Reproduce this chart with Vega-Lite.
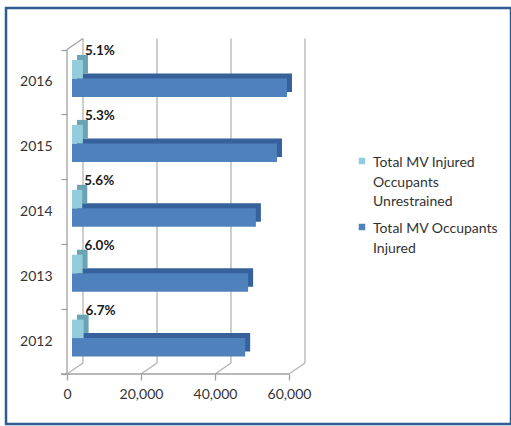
{
  "$schema": "https://vega.github.io/schema/vega-lite/v6.json",
  "width": 505,
  "height": 416,
  "autosize": {"type": "none"},
  "padding": {"left": 6, "top": 8, "right": 0, "bottom": 2},
  "background": "white",
  "config": {
    "view": {"stroke": "#2f5d93", "strokeWidth": 2.5, "fill": "white"},
    "font": "Lato"
  },
  "datasets": {
    "main": [
      {"year": 2012, "series": "Total MV Occupants Injured", "value": 46800, "label": ""},
      {"year": 2013, "series": "Total MV Occupants Injured", "value": 47600, "label": ""},
      {"year": 2014, "series": "Total MV Occupants Injured", "value": 49700, "label": ""},
      {"year": 2015, "series": "Total MV Occupants Injured", "value": 55400, "label": ""},
      {"year": 2016, "series": "Total MV Occupants Injured", "value": 58100, "label": ""},
      {"year": 2012, "series": "Total MV Injured Occupants Unrestrained", "value": 3140, "label": "6.7%"},
      {"year": 2013, "series": "Total MV Injured Occupants Unrestrained", "value": 2860, "label": "6.0%"},
      {"year": 2014, "series": "Total MV Injured Occupants Unrestrained", "value": 2780, "label": "5.6%"},
      {"year": 2015, "series": "Total MV Injured Occupants Unrestrained", "value": 2940, "label": "5.3%"},
      {"year": 2016, "series": "Total MV Injured Occupants Unrestrained", "value": 2960, "label": "5.1%"}
    ],
    "grid": [{"v": 0}, {"v": 20000}, {"v": 40000}, {"v": 60000}]
  },
  "resolve": {"scale": {"yOffset": "independent"}},
  "encoding": {
    "y": {
      "field": "year",
      "type": "ordinal",
      "sort": "descending",
      "scale": {"paddingInner": 0, "paddingOuter": 0.705, "align": 0.4536},
      "axis": {
        "orient": "left",
        "offset": -61,
        "title": null,
        "domain": false,
        "grid": false,
        "tickBand": "extent",
        "tickSize": 6,
        "tickColor": "#a0a0a0",
        "tickWidth": 1.3,
        "labelPadding": 9,
        "labelFontSize": 14,
        "labelColor": "#333333"
      }
    }
  },
  "layer": [
    {
      "data": {"name": "grid"},
      "mark": {"type": "rule", "color": "#b3b3b3", "strokeWidth": 1.3, "xOffset": 16, "yOffset": -11, "y2Offset": -11},
      "encoding": {
        "x": {"field": "v", "type": "quantitative"},
        "y": {"datum": 2016, "type": "ordinal", "bandPosition": 0},
        "y2": {"datum": 2012, "bandPosition": 1}
      }
    },
    {
      "data": {"name": "grid"},
      "mark": {"type": "rule", "color": "#b3b3b3", "strokeWidth": 1.3, "x2Offset": 16, "y2Offset": -11},
      "encoding": {
        "x": {"field": "v", "type": "quantitative"},
        "x2": {"field": "v"},
        "y": {"datum": 2012, "type": "ordinal", "bandPosition": 1},
        "y2": {"datum": 2012, "bandPosition": 1}
      }
    },
    {
      "data": {"name": "grid"},
      "transform": [{"filter": "datum.v == 0"}],
      "mark": {"type": "rule", "color": "#a0a0a0", "strokeWidth": 1.3, "x2Offset": 16, "y2Offset": -11},
      "encoding": {
        "x": {"datum": 0, "type": "quantitative"},
        "x2": {"datum": 0},
        "y": {"datum": 2016, "type": "ordinal", "bandPosition": 0},
        "y2": {"datum": 2016, "bandPosition": 0}
      }
    },
    {
      "data": {"name": "grid"},
      "transform": [{"filter": "datum.v == 0"}],
      "mark": {"type": "rule", "color": "#a0a0a0", "strokeWidth": 1.3},
      "encoding": {
        "x": {"datum": 0, "type": "quantitative"},
        "y": {"datum": 2016, "type": "ordinal", "bandPosition": 0},
        "y2": {"datum": 2012, "bandPosition": 1}
      }
    },
    {
      "data": {"name": "grid"},
      "transform": [{"filter": "datum.v == 0"}],
      "mark": {"type": "rule", "color": "#a0a0a0", "strokeWidth": 1.3},
      "encoding": {
        "x": {"datum": -1620, "type": "quantitative"},
        "x2": {"datum": 60000},
        "y": {"datum": 2012, "type": "ordinal", "bandPosition": 1}
      }
    },
    {
      "data": {"name": "main"},
      "transform": [{"filter": "datum.series == 'Total MV Occupants Injured'"}],
      "mark": {"type": "bar", "color": "#36619b", "xOffset": 10, "x2Offset": 10},
      "encoding": {
        "x": {"field": "value", "type": "quantitative"},
        "yOffset": {
          "field": "series",
          "type": "nominal",
          "scale": {"domain": ["Total MV Injured Occupants Unrestrained", "Total MV Occupants Injured"], "paddingInner": 0, "paddingOuter": 0.754, "align": 0.197}
        }
      }
    },
    {
      "data": {"name": "main"},
      "transform": [{"filter": "datum.series != 'Total MV Occupants Injured'"}],
      "mark": {"type": "bar", "color": "#6aa4b2", "xOffset": 10, "x2Offset": 10},
      "encoding": {
        "x": {"field": "value", "type": "quantitative"},
        "yOffset": {
          "field": "series",
          "type": "nominal",
          "scale": {"domain": ["Total MV Injured Occupants Unrestrained", "Total MV Occupants Injured"], "paddingInner": 0, "paddingOuter": 0.754, "align": 0.197}
        }
      }
    },
    {
      "data": {"name": "main"},
      "mark": {"type": "bar", "xOffset": 5, "x2Offset": 5},
      "encoding": {
        "x": {
          "field": "value",
          "type": "quantitative",
          "scale": {"domain": [-16486, 120000], "nice": false, "zero": false},
          "axis": {
            "orient": "bottom",
            "offset": -50,
            "title": null,
            "values": [0, 20000, 40000, 60000],
            "format": ",d",
            "domain": false,
            "grid": false,
            "tickSize": 6,
            "tickColor": "#a0a0a0",
            "tickWidth": 1.3,
            "labelPadding": 7,
            "labelFlush": false,
            "labelFontSize": 14,
            "labelColor": "#333333"
          }
        },
        "yOffset": {
          "field": "series",
          "type": "nominal",
          "scale": {"domain": ["Total MV Injured Occupants Unrestrained", "Total MV Occupants Injured"], "paddingInner": 0, "paddingOuter": 0.754, "align": 0.376}
        },
        "color": {
          "field": "series",
          "type": "nominal",
          "sort": ["Total MV Injured Occupants Unrestrained", "Total MV Occupants Injured"],
          "scale": {"range": ["#93cddd", "#4f81bd"]},
          "legend": {
            "orient": "none",
            "legendX": 349,
            "legendY": 146,
            "title": null,
            "symbolType": "square",
            "symbolSize": 42,
            "symbolStrokeWidth": 0,
            "labelFontSize": 14,
            "labelColor": "#333333",
            "labelLimit": 200,
            "labelBaseline": "top",
            "rowPadding": 11,
            "labelExpr": "datum.label == 'Total MV Injured Occupants Unrestrained' ? ['Total MV Injured', 'Occupants', 'Unrestrained'] : ['Total MV Occupants', 'Injured']",
            "encode": {"labels": {"update": {"lineHeight": {"value": 19.5}, "dy": {"value": -5}}}}
          }
        }
      }
    },
    {
      "data": {"name": "main"},
      "transform": [{"filter": "datum.label != ''"}],
      "mark": {"type": "text", "align": "left", "baseline": "middle", "xOffset": 5, "dx": 2, "dy": -13, "fontWeight": "bold", "fontSize": 13.5, "color": "#1a1a1a"},
      "encoding": {
        "x": {"field": "value", "type": "quantitative"},
        "yOffset": {
          "field": "series",
          "type": "nominal",
          "scale": {"domain": ["Total MV Injured Occupants Unrestrained", "Total MV Occupants Injured"], "paddingInner": 0, "paddingOuter": 0.754, "align": 0.376}
        },
        "text": {"field": "label"}
      }
    }
  ]
}
